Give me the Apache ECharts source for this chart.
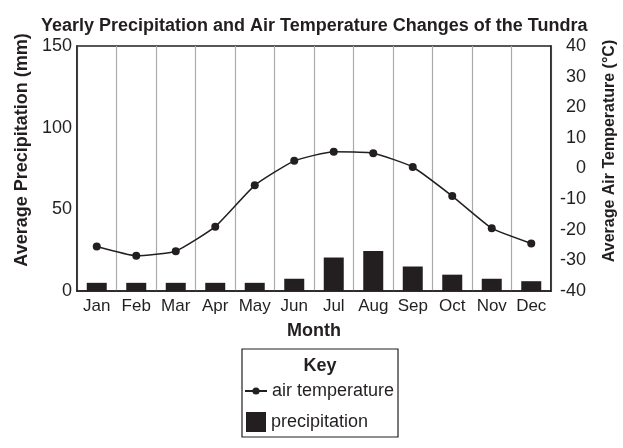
<!DOCTYPE html>
<html>
<head>
<meta charset="utf-8">
<script src="https://cdn.jsdelivr.net/npm/echarts@6/dist/echarts.min.js"></script>
<style>
  html, body { margin: 0; padding: 0; background: #fff; }
  #chart { width: 623px; height: 448px; }
</style>
</head>
<body>
<div id="chart"></div>
<script>
const months = ['Jan', 'Feb', 'Mar', 'Apr', 'May', 'Jun', 'Jul', 'Aug', 'Sep', 'Oct', 'Nov', 'Dec']
const precipitation = [5, 5, 5, 5, 5, 7.5, 20.5, 24.5, 15, 10, 7.5, 6]
const temperature = [-25.5, -28.5, -27, -19, -5.5, 2.5, 5.5, 5, 0.5, -9, -19.5, -24.5]

const INK = '#231f20'
const FONT = '"Liberation Sans", Arial, sans-serif'

const chart = echarts.init(document.getElementById('chart'), null, { renderer: 'canvas' })

const option = {
  animation: false,
  backgroundColor: '#fff',
  textStyle: { fontFamily: FONT, color: INK },
  title: {
    text: 'Yearly Precipitation and Air Temperature Changes of the Tundra',
    left: 41,
    top: 17,
    padding: 0,
    textStyle: { fontFamily: FONT, fontSize: 18, fontWeight: 'bold', color: INK },
  },
  grid: {
    left: 77, right: 72, top: 46, bottom: 157,
    outerBoundsMode: 'none',
    containLabel: false,
    show: true,
    borderColor: INK,
    borderWidth: 1.5,
  },
  legend: [
    {
      data: [{ name: 'air temperature' }],
      left: 244, top: 382, padding: 0,
      itemWidth: 22, itemHeight: 9,
      selectedMode: false,
      textStyle: { fontFamily: FONT, fontSize: 18, color: INK },
    },
    {
      data: [{ name: 'precipitation', icon: 'rect' }],
      left: 246, top: 412, padding: 0,
      itemWidth: 20, itemHeight: 20,
      selectedMode: false,
      textStyle: { fontFamily: FONT, fontSize: 18, color: INK },
    },
  ],
  graphic: [
    {
      type: 'rect',
      shape: { x: 242, y: 349, width: 156, height: 88 },
      style: { fill: '#fff', stroke: INK, lineWidth: 1.2 },
      z: -1,
    },
    {
      type: 'text',
      x: 320, y: 366,
      style: {
        text: 'Key', fill: INK, font: 'bold 18px ' + FONT,
        align: 'center', verticalAlign: 'middle',
      },
    },
  ],
  xAxis: {
    type: 'category',
    data: months,
    name: 'Month',
    nameLocation: 'middle',
    nameGap: 31,
    nameTextStyle: { fontFamily: FONT, fontSize: 18, fontWeight: 'bold', color: INK },
    axisLine: { lineStyle: { color: INK, width: 1.5 } },
    axisTick: { show: false },
    axisLabel: { fontFamily: FONT, fontSize: 17, color: INK, margin: 7, interval: 0 },
    splitLine: { show: true, interval: 0, lineStyle: { color: '#aaa', width: 1.2 } },
  },
  yAxis: [
    {
      type: 'value',
      min: 0, max: 150, interval: 50,
      name: 'Average Precipitation (mm)',
      nameLocation: 'middle',
      nameGap: 46,
      nameTextStyle: {
        fontFamily: FONT, fontSize: 18, fontWeight: 'bold', color: INK,
        padding: [0, 0, 0, 37],
      },
      axisLine: { show: true, lineStyle: { color: INK, width: 1.5 } },
      axisTick: { show: false },
      axisLabel: { fontFamily: FONT, fontSize: 18, color: INK, margin: 5 },
      splitLine: { show: false },
    },
    {
      type: 'value',
      min: -40, max: 40, interval: 10,
      position: 'right',
      name: 'Average Air Temperature (°C)',
      nameLocation: 'middle',
      nameGap: 51,
      nameTextStyle: {
        fontFamily: FONT, fontSize: 16, fontWeight: 'bold', color: INK,
        padding: [0, 0, 0, 35],
      },
      axisLine: { show: true, lineStyle: { color: INK, width: 1.5 } },
      axisTick: { show: false },
      axisLabel: { fontFamily: FONT, fontSize: 18, color: INK, margin: 35, align: 'right' },
      splitLine: { show: false },
    },
  ],
  series: [
    {
      name: 'precipitation',
      type: 'bar',
      yAxisIndex: 0,
      data: precipitation,
      barWidth: 20,
      itemStyle: { color: INK },
    },
    {
      name: 'air temperature',
      type: 'line',
      yAxisIndex: 1,
      data: temperature,
      smooth: 0.15,
      symbol: 'circle',
      symbolSize: 8,
      itemStyle: { color: INK },
      lineStyle: { color: INK, width: 1.5 },
      z: 3,
    },
  ],
}

chart.setOption(option)
</script>
</body>
</html>
